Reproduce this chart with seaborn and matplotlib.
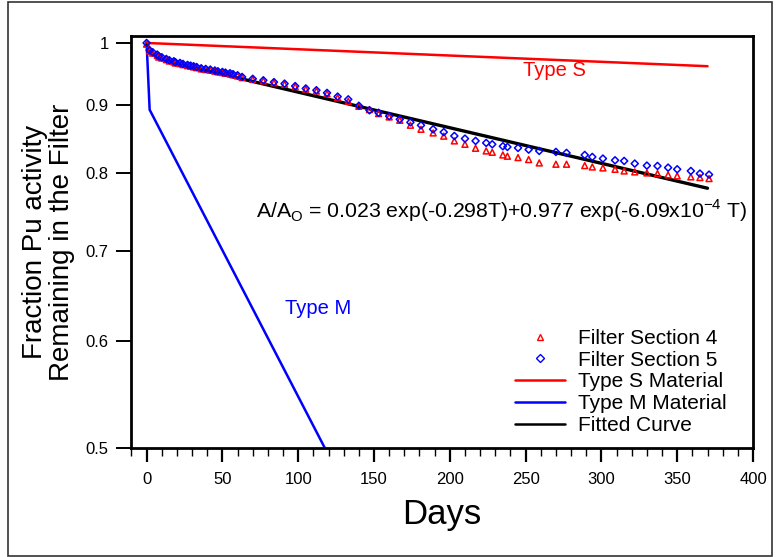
import numpy as np
import pandas as pd
import matplotlib
matplotlib.use("Agg")
import matplotlib.pyplot as plt
import matplotlib.ticker as mticker
from matplotlib.lines import Line2D
from matplotlib.patches import Rectangle
import seaborn as sns

# Measured filter activity (fraction of initial) versus days
days = [0, 2, 4, 7, 8, 10, 13, 15, 18, 19, 22, 24, 27, 29, 31, 33, 36, 39, 42, 45,
        47, 50, 52, 55, 57, 60, 63, 70, 77, 84, 91, 98, 105, 112, 119, 126, 133,
        140, 147, 153, 160, 167, 174, 181, 189, 196, 203, 210, 217, 224, 228, 235,
        238, 245, 252, 259, 270, 277, 289, 294, 301, 309, 315, 322, 330, 337, 344,
        350, 359, 365, 371]

section5 = [1.0, 0.9876, 0.9842, 0.9803, 0.9775, 0.9758, 0.9730, 0.9708, 0.9692,
            0.9675, 0.9664, 0.9647, 0.9631, 0.9620, 0.9609, 0.9597, 0.9576, 0.9565,
            0.9555, 0.9539, 0.9527, 0.9516, 0.9505, 0.9495, 0.9480, 0.9462, 0.9435,
            0.9405, 0.9381, 0.9352, 0.9328, 0.9289, 0.9251, 0.9223, 0.9181, 0.9123,
            0.9080, 0.8981, 0.8912, 0.8874, 0.8823, 0.8776, 0.8730, 0.8686, 0.8627,
            0.8585, 0.8529, 0.8490, 0.8457, 0.8428, 0.8408, 0.8380, 0.8370, 0.8356,
            0.8332, 0.8313, 0.8299, 0.8285, 0.8256, 0.8228, 0.8205, 0.8181, 0.8172,
            0.8135, 0.8107, 0.8102, 0.8079, 0.8056, 0.8033, 0.7997, 0.7983]

section4 = [0.998, 0.9862, 0.9828, 0.9790, 0.9762, 0.9745, 0.9718, 0.9696, 0.9680,
            0.9663, 0.9652, 0.9636, 0.9620, 0.9609, 0.9598, 0.9586, 0.9566, 0.9555,
            0.9545, 0.9529, 0.9517, 0.9506, 0.9495, 0.9485, 0.9470, 0.9452, 0.9425,
            0.9395, 0.9372, 0.9342, 0.9318, 0.9280, 0.9240, 0.9210, 0.9168, 0.9105,
            0.9050, 0.8974, 0.8923, 0.8862, 0.8811, 0.8761, 0.8687, 0.8627, 0.8573,
            0.8526, 0.8457, 0.8408, 0.8351, 0.8313, 0.8294, 0.8256, 0.8238, 0.8219,
            0.8191, 0.8144, 0.8126, 0.8126, 0.8107, 0.8088, 0.8075, 0.8056, 0.8033,
            0.8020, 0.8006, 0.7997, 0.7979, 0.7965, 0.7952, 0.7943, 0.7929]

# Reference clearance lines for ICRP material types
type_s_days = [0, 370]
type_s_frac = [1.0, 0.961]
type_m_days = [0, 2, 150]
type_m_frac = [1.0, 0.892, 0.425]

# Two-component fit: A/Ao = a1 exp(-k1 T) + a2 exp(-k2 T)
fit_a1, fit_k1 = 0.023, 0.298
fit_a2, fit_k2 = 0.977, 6.09e-4
fit_days = np.linspace(0, 370, 400)
fit_frac = fit_a1 * np.exp(-fit_k1 * fit_days) + fit_a2 * np.exp(-fit_k2 * fit_days)

y_ticks = [0.5, 0.6, 0.7, 0.8, 0.9, 1.0]
y_tick_labels = ["0.5", "0.6", "0.7", "0.8", "0.9", "1"]

sns.set_theme(style="white")
plt.rcParams["font.family"] = ["Liberation Sans", "DejaVu Sans"]
plt.rcParams["mathtext.fontset"] = "custom"
plt.rcParams["mathtext.rm"] = "Liberation Sans"
plt.rcParams["text.color"] = "black"
plt.rcParams["axes.labelcolor"] = "black"

fig = plt.figure(figsize=(7.77, 5.57), dpi=100)
ax = fig.add_axes([131 / 777, 1 - 448 / 557, (753 - 131) / 777, (448 - 36) / 557])

obs = pd.DataFrame({"days": days, "s4": section4, "s5": section5})
fit = pd.DataFrame({"days": fit_days, "frac": fit_frac})
ts = pd.DataFrame({"days": type_s_days, "frac": type_s_frac})
tm = pd.DataFrame({"days": type_m_days, "frac": type_m_frac})

sns.lineplot(data=ts, x="days", y="frac", color="#ff0000", lw=1.8, ax=ax, zorder=2)
sns.lineplot(data=tm, x="days", y="frac", color="#0000ff", lw=1.8, ax=ax, zorder=2)
sns.lineplot(data=fit, x="days", y="frac", color="black", lw=2.4, ax=ax, zorder=3)
sns.scatterplot(data=obs, x="days", y="s4", marker="^", s=18, fc="none", ec="#ff0000",
                linewidth=1.1, ax=ax, zorder=4)
sns.scatterplot(data=obs, x="days", y="s5", marker="D", s=13, fc="none", ec="#0000ff",
                linewidth=1.1, ax=ax, zorder=5)

ax.set_yscale("log")
ax.set_xlim(-10.3, 400)
ax.set_ylim(0.5, 1.012)
ax.yaxis.set_major_locator(mticker.FixedLocator(y_ticks))
ax.yaxis.set_major_formatter(mticker.FixedFormatter(y_tick_labels))
ax.yaxis.set_minor_locator(mticker.NullLocator())
ax.xaxis.set_major_locator(mticker.MultipleLocator(50))
ax.xaxis.set_minor_locator(mticker.MultipleLocator(10))

for sp in ax.spines.values():
    sp.set_linewidth(2.0)
    sp.set_color("black")
ax.tick_params(axis="x", which="major", direction="out", length=10, width=1.6,
               labelsize=12, pad=7, colors="black", bottom=True)
ax.tick_params(axis="x", which="minor", direction="out", length=6, width=1.0,
               bottom=True, colors="black")
ax.tick_params(axis="y", which="major", direction="out", length=11, width=1.4,
               labelsize=12, pad=5, colors="black", left=True)

ax.set_xlabel("Days", fontsize=25, labelpad=8, color="black")
ax.set_ylabel("Fraction Pu activity\nRemaining in the Filter", fontsize=20,
              labelpad=8, color="black", linespacing=1.05)

ax.text(269, 0.954, "Type S", color="#ff0000", fontsize=14.5, ha="center", va="center")
ax.text(113, 0.635, "Type M", color="#0000ff", fontsize=14.5, ha="center", va="center")
ax.text(396.7, 0.750,
        r"A/A$_\mathregular{O}$ = 0.023 exp(-0.298T)+0.977 exp(-6.09x10$^\mathregular{-4}$ T)",
        fontsize=15.3, ha="right", va="center", color="black")

handles = [
    Line2D([], [], ls="none", marker="^", ms=4.2, mfc="none", mec="#ff0000", mew=1.0),
    Line2D([], [], ls="none", marker="D", ms=3.6, mfc="none", mec="#0000ff", mew=1.0),
    Line2D([], [], color="#ff0000", lw=1.8),
    Line2D([], [], color="#0000ff", lw=1.8),
    Line2D([], [], color="black", lw=1.8),
]
labels = ["Filter Section 4", "Filter Section 5", "Type S Material",
          "Type M Material", "Fitted Curve"]
leg = ax.legend(handles, labels, loc="upper left", bbox_to_anchor=(515 / 777, 1 - 329 / 557),
                bbox_transform=fig.transFigure, frameon=False, fontsize=15, borderpad=0,
                borderaxespad=0, handlelength=2.4, handletextpad=0.6, labelspacing=0.13)
for t in leg.get_texts():
    t.set_color("black")

fig.patches.append(Rectangle((8 / 777, 1 / 557), (772 - 8) / 777, (556 - 2) / 557,
                             transform=fig.transFigure, fill=False, ec="#333333", lw=1.2))

fig.savefig("out.png", dpi=100)
